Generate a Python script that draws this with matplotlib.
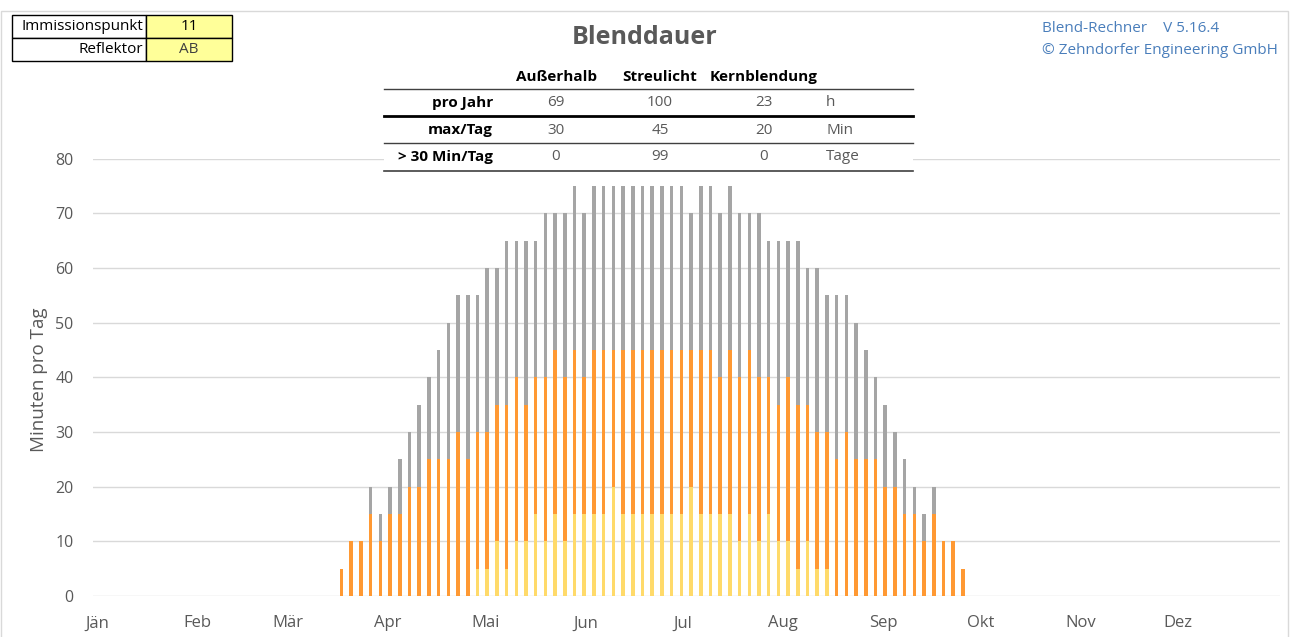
"""
Blenddauer chart: daily glare minutes (stacked) over the year.
"""

import numpy as np
import pandas as pd
import matplotlib
matplotlib.use('Agg')
import matplotlib.pyplot as plt
from matplotlib.patches import Rectangle
from matplotlib.lines import Line2D

plt.rcParams['font.family'] = ['Open Sans', 'DejaVu Sans']

# --- data (minutes per day, sampled every 3 days) ---
first_day = 75.6          # day of year of first sample (0 = 1 Jan)
step_days = 3

kern = [0, 0, 0, 0, 0, 0, 0, 0, 0, 0, 0, 0, 0, 0, 5, 5, 10, 5, 10, 10,
        15, 10, 15, 10, 15, 15, 15, 15, 20, 15, 15, 15, 15, 15, 15, 15, 20, 15, 15, 15,
        15, 10, 15, 10, 15, 10, 10, 5, 10, 5, 5, 0, 0, 0, 0, 0, 0, 0, 0, 0,
        0, 0, 0, 0, 0]
streu = [5, 10, 10, 15, 10, 15, 15, 20, 20, 25, 25, 25, 30, 25, 25, 25, 25, 30, 30, 25,
         25, 30, 30, 30, 30, 25, 30, 30, 25, 30, 30, 30, 30, 30, 30, 30, 25, 30, 30, 25,
         30, 30, 30, 30, 25, 25, 30, 30, 25, 25, 25, 25, 30, 25, 25, 25, 20, 20, 15, 15,
         10, 15, 10, 10, 5]
ausser = [0, 0, 0, 5, 5, 5, 10, 10, 15, 15, 20, 25, 25, 30, 25, 30, 25, 30, 25, 30,
          25, 30, 25, 30, 30, 30, 30, 30, 30, 30, 30, 30, 30, 30, 30, 30, 25, 30, 30, 30,
          30, 30, 25, 30, 25, 30, 25, 30, 25, 30, 25, 30, 25, 25, 20, 15, 15, 10, 10, 5,
          5, 5, 0, 0, 0]

months = ['Jän', 'Feb', 'Mär', 'Apr', 'Mai', 'Jun', 'Jul', 'Aug', 'Sep', 'Okt', 'Nov', 'Dez']
month_starts = pd.date_range('2019-01-01', periods=12, freq='MS').dayofyear - 1

table_cols = ['Außerhalb', 'Streulicht', 'Kernblendung']
table_rows = ['pro Jahr', 'max/Tag', '> 30 Min/Tag']
table_vals = [['69', '100', '23'], ['30', '45', '20'], ['0', '99', '0']]
table_units = ['h', 'Min', 'Tage']

info_labels = ['Immissionspunkt', 'Reflektor']
info_vals = ['11', 'AB']

# colours
c_kern = '#FFDA6A'
c_streu = '#FF9933'
c_ausser = '#A5A5A5'
c_text = '#595959'
c_grid = '#D9D9D9'

W, H = 1290, 637


def fx(px):
    return px / W


def fy(py):
    return 1 - py / H


fig = plt.figure(figsize=(W / 100, H / 100), dpi=100)
ax = fig.add_axes([fx(93), fy(596), fx(1280) - fx(93), fy(158.7) - fy(596)])

days = first_day + step_days * np.arange(len(kern))
kern = np.array(kern)
streu = np.array(streu)
ausser = np.array(ausser)
bw = 1.1
ax.bar(days, kern, width=bw, color=c_kern, zorder=3)
ax.bar(days, streu, width=bw, bottom=kern, color=c_streu, zorder=3)
ax.bar(days, ausser, width=bw, bottom=kern + streu, color=c_ausser, zorder=3)

ax.set_xlim(-1.2, 365.6)
ax.set_ylim(0, 80)
ax.set_yticks(np.arange(0, 81, 10))
ax.set_xticks(month_starts)
ax.set_xticklabels(months)
ax.tick_params(axis='both', length=0, labelcolor=c_text)
ax.tick_params(axis='x', pad=14, labelsize=12)
ax.tick_params(axis='y', pad=14, labelsize=11.5)
ax.yaxis.grid(True, color=c_grid, linewidth=1, zorder=0)
ax.set_axisbelow(True)
for s in ax.spines.values():
    s.set_visible(False)
ax.set_ylabel('Minuten pro Tag', fontsize=13.5, color=c_text)
ax.yaxis.set_label_coords(-0.038, 0.494)

# chart border
fig.add_artist(Rectangle((fx(0.5), fy(640)), fx(1288) - fx(0.5), fy(11) - fy(640),
                         transform=fig.transFigure, fill=False, edgecolor=c_grid, lw=1))

# title
fig.text(0.5, fy(38), 'Blenddauer', ha='center', va='center', fontsize=18,
         fontweight='bold', color=c_text)

# version info
fig.text(fx(1042), fy(28), 'Blend-Rechner    V 5.16.4', ha='left', va='center',
         fontsize=11, color='#4A7EBB')
fig.text(fx(1042), fy(51), '© Zehndorfer Engineering GmbH', ha='left', va='center',
         fontsize=11, color='#4A7EBB')

# info box top-left
row_h = 23
for i, (lab, val) in enumerate(zip(info_labels, info_vals)):
    top = 15 + i * row_h
    fig.add_artist(Rectangle((fx(12), fy(top + row_h)), fx(146) - fx(12), fy(top) - fy(top + row_h),
                             transform=fig.transFigure, facecolor='white', edgecolor='black', lw=1))
    fig.add_artist(Rectangle((fx(146), fy(top + row_h)), fx(232) - fx(146), fy(top) - fy(top + row_h),
                             transform=fig.transFigure, facecolor='#FFFF99', edgecolor='black', lw=1))
    fig.text(fx(143), fy(top + row_h / 2), lab, ha='right', va='center', fontsize=11, color='black')
    fig.text(fx(189), fy(top + row_h / 2), val, ha='center', va='center', fontsize=11,
             color='black' if i == 0 else '#404040')

# summary table
fig.add_artist(Rectangle((fx(384), fy(172)), fx(913) - fx(384), fy(66) - fy(172),
                         transform=fig.transFigure, facecolor='white', edgecolor='none'))
col_x = [556, 660, 764]
row_y = [103, 130, 157]
for x, name in zip(col_x, table_cols):
    fig.text(fx(x), fy(77), name, ha='center', va='center', fontsize=11,
             fontweight='bold', color='black')
for y, name, vals, unit in zip(row_y, table_rows, table_vals, table_units):
    fig.text(fx(493), fy(y), name, ha='right', va='center', fontsize=11,
             fontweight='bold', color='black')
    for x, v in zip(col_x, vals):
        fig.text(fx(x), fy(y), v, ha='center', va='center', fontsize=11, color=c_text)
    fig.text(fx(826), fy(y), unit, ha='left', va='center', fontsize=11, color=c_text)
for y, lw, col in [(89, 1, '#404040'), (116, 2, 'black'), (143, 1, '#404040'), (171.5, 1.2, '#404040')]:
    fig.add_artist(Line2D([fx(384), fx(913)], [fy(y), fy(y)], transform=fig.transFigure,
                          color=col, lw=lw))

plt.savefig('out.png', dpi=100)
plt.close()
